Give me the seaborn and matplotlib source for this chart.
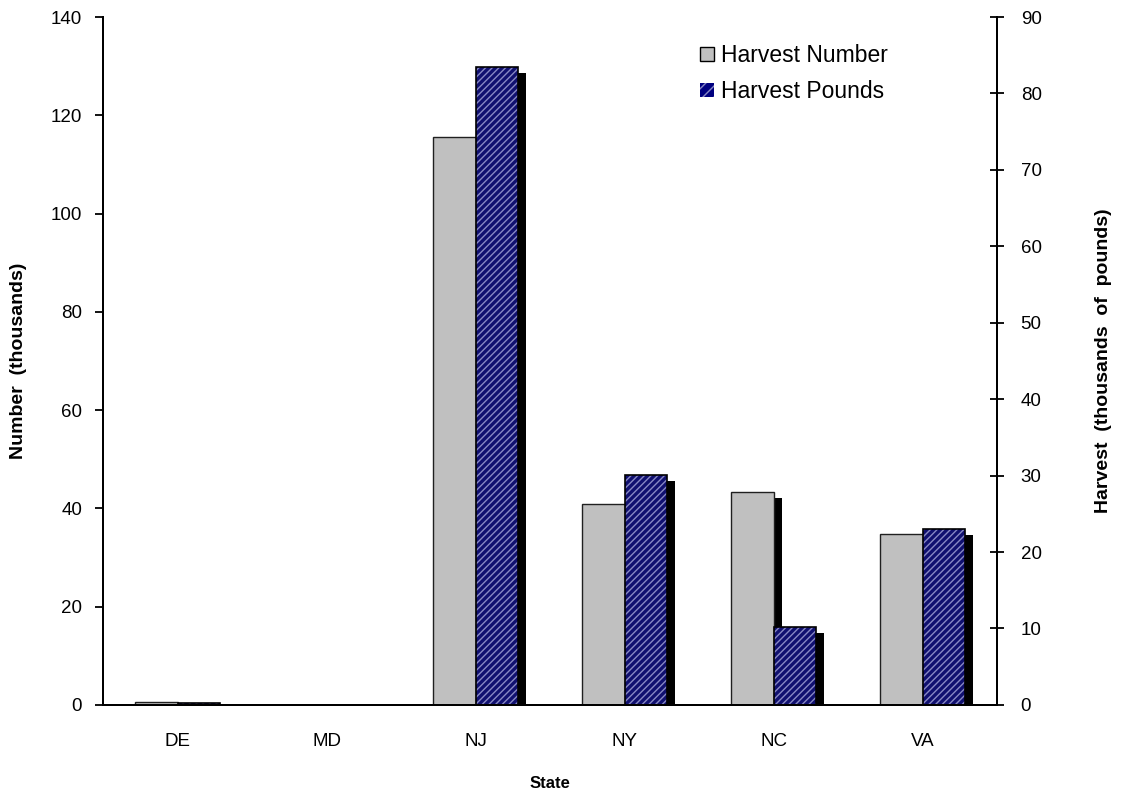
import matplotlib
matplotlib.use("Agg")
import matplotlib.pyplot as plt
import matplotlib.patheffects as pe
from matplotlib.patches import Patch
import seaborn as sns
import pandas as pd

# Chart data
states = ["DE", "MD", "NJ", "NY", "NC", "VA"]
harvest_number = [0.5, 0.0, 115.5, 40.9, 43.3, 34.8]     # thousands of fish
harvest_pounds = [0.3, 0.0, 83.4, 30.1, 10.2, 23.0]      # thousands of pounds
series_names = ["Harvest Number", "Harvest Pounds"]

GRAY = "#C0C0C0"
NAVY = "#000080"
STRIPE = "#8888C4"

sns.set_style("white")
plt.rcParams["font.family"] = ["Liberation Sans", "DejaVu Sans"]
plt.rcParams["hatch.linewidth"] = 1.0
plt.rcParams["text.color"] = "black"
plt.rcParams["axes.labelcolor"] = "black"
plt.rcParams["xtick.color"] = "black"
plt.rcParams["ytick.color"] = "black"

df_num = pd.DataFrame({"State": states, "Value": harvest_number,
                       "Series": series_names[0]})
df_lbs = pd.DataFrame({"State": states, "Value": harvest_pounds,
                       "Series": series_names[1]})

fig = plt.figure(figsize=(11.25, 7.92), dpi=100)
ax1 = fig.add_axes([0.0916, 0.110, 0.7947, 0.8685])
ax2 = ax1.twinx()

shadow = [pe.SimplePatchShadow(offset=(5.8, -4.3), shadow_rgbFace="black",
                               alpha=1.0, hatch=None),
          pe.Normal()]

# Gray bars on the left axis
sns.barplot(data=df_num, x="State", y="Value", hue="Series",
            hue_order=series_names, palette={series_names[0]: GRAY,
                                             series_names[1]: NAVY},
            width=0.565, dodge=True, errorbar=None, legend=False, ax=ax1,
            edgecolor="#202020", linewidth=1.0, path_effects=shadow)

# Hatched blue bars on the right axis
sns.barplot(data=df_lbs, x="State", y="Value", hue="Series",
            hue_order=series_names, palette={series_names[0]: GRAY,
                                             series_names[1]: NAVY},
            width=0.565, dodge=True, errorbar=None, legend=False, ax=ax2,
            hatch="/////", edgecolor=STRIPE, linewidth=0, path_effects=shadow)
# black outlines on top of the hatch
sns.barplot(data=df_lbs, x="State", y="Value", hue="Series",
            hue_order=series_names, palette={series_names[0]: "black",
                                             series_names[1]: "black"},
            width=0.565, dodge=True, errorbar=None, legend=False, ax=ax2,
            fill=False, linewidth=1.2)

# Axes limits and ticks
ax1.set_xlim(-0.5, len(states) - 0.5)
ax1.set_ylim(0, 140)
ax1.set_yticks(range(0, 141, 20))
ax2.set_ylim(0, 90)
ax2.set_yticks(range(0, 91, 10))

ax1.set_xticks(range(len(states)))
ax1.set_xticklabels(states)
ax1.set_xticks([i - 0.5 for i in range(len(states) + 1)], minor=True)
ax1.tick_params(axis="x", which="major", length=0, pad=20, labelsize=13.5)
ax1.tick_params(axis="x", which="minor", length=7, width=1.3,
                direction="out", color="black")
ax1.tick_params(axis="y", length=6, width=1.3, direction="out", pad=9,
                labelsize=13.5, left=True)
ax2.tick_params(axis="y", length=10, width=1.3, direction="inout", pad=12,
                labelsize=13.5, right=True)

for ax in (ax1, ax2):
    ax.spines["top"].set_visible(False)
    for side in ("left", "right", "bottom"):
        ax.spines[side].set_color("black")
        ax.spines[side].set_linewidth(1.4)
    ax.grid(False)

ax1.set_xlabel("State", fontsize=12, fontweight="bold")
ax1.set_ylabel("Number  (thousands)", fontsize=14, fontweight="bold")
ax2.set_ylabel("Harvest  (thousands  of  pounds)", fontsize=14,
               fontweight="bold")
ax1.xaxis.set_label_coords(0.5, -0.103)
ax1.yaxis.set_label_coords(-0.085, 0.5)
ax2.yaxis.set_label_coords(1.109, 0.5)

handles = [Patch(facecolor=GRAY, edgecolor="black", linewidth=1.0),
           Patch(facecolor=NAVY, edgecolor=STRIPE, hatch="///", linewidth=0)]
fig.legend(handles, series_names, loc="upper left",
           bbox_to_anchor=(700 / 1125, 1 - 44 / 792), frameon=False,
           fontsize=16.5, handlelength=0.6, handleheight=0.6,
           handletextpad=0.3, labelspacing=0.58, borderpad=0,
           borderaxespad=0)

fig.savefig("out.png", dpi=100)
